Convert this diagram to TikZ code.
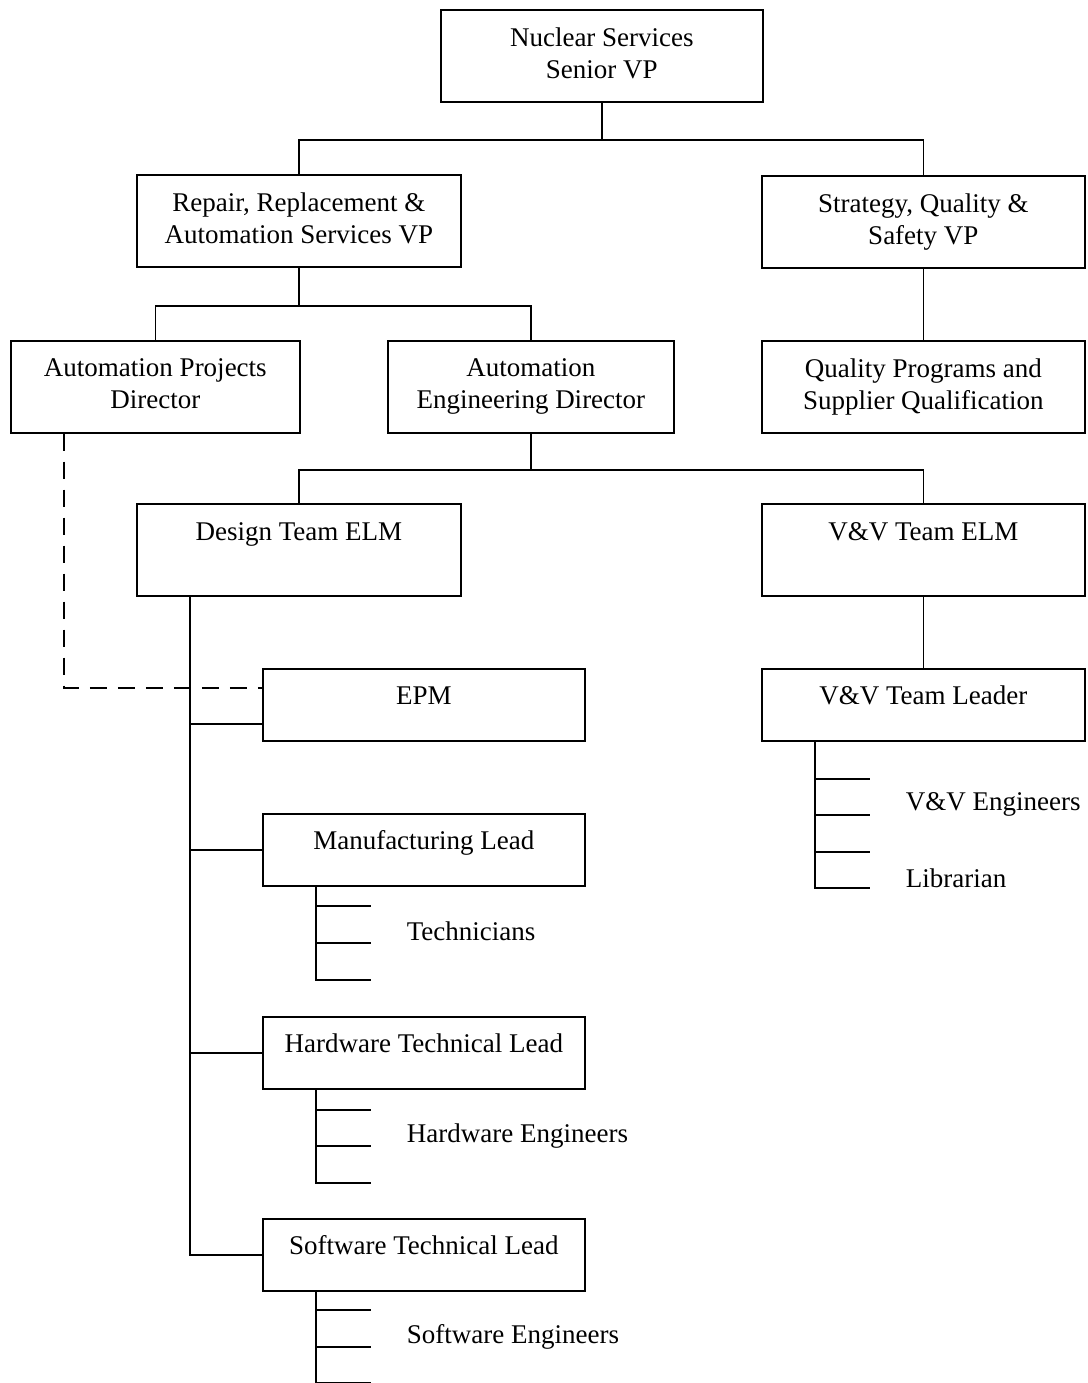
\documentclass[tikz,border=0pt]{standalone}
\usepackage{fontspec}
\setmainfont{Liberation Serif}
\usetikzlibrary{calc}
% keeps a last line without descenders at the same depth as one with them
\newcommand{\dpad}{\rule[-6pt]{0pt}{6pt}}
\begin{document}
\begin{tikzpicture}[x=1pt,y=-1pt,line width=1.7pt,
  txt/.style={font=\fontsize{27}{32}\selectfont},
  box/.style={txt,draw,rectangle,inner sep=0pt,anchor=north west,align=center},
  tall/.style={minimum height=92pt},
  short/.style={minimum height=72pt,text height=19pt,text depth=19pt},
  topline/.style={minimum height=92pt,text height=19pt,text depth=37pt},
  lbl/.style={txt,anchor=west,inner sep=0pt},
  dotted link/.style={dash pattern=on 17pt off 11pt}]
\useasboundingbox (0,0) rectangle (1087,1383);

% boxes
\node[box,tall,minimum width=322pt] (nuc) at (440,9) {Nuclear Services\\Senior VP\dpad};
\node[box,tall,minimum width=324pt] (rep) at (136,174) {Repair, Replacement \&\\Automation Services VP\dpad};
\node[box,tall,minimum width=323pt] (str) at (761,175) {Strategy, Quality \&\\Safety VP};
\node[box,tall,minimum width=289pt] (apd) at (10,340) {Automation Projects\\Director\dpad};
\node[box,tall,minimum width=286pt] (aed) at (387,340) {Automation\\Engineering Director};
\node[box,tall,minimum width=323pt] (qual) at (761,340) {Quality Programs and\\Supplier Qualification};
\node[box,topline,minimum width=324pt] (dte) at (136,503) {Design Team ELM};
\node[box,topline,minimum width=323pt] (vte) at (761,503) {V\&V Team ELM};
\node[box,short,minimum width=323pt] (vtl) at (761,668) {V\&V Team Leader};
\node[box,short,minimum width=322pt] (epm) at (262,668) {EPM};
\node[box,short,minimum width=322pt] (mfg) at (262,813) {Manufacturing Lead};
\node[box,short,minimum width=322pt] (hw) at (262,1016) {Hardware Technical Lead};
\node[box,short,minimum width=322pt] (sw) at (262,1218) {Software Technical Lead};

% upper levels
\draw (nuc.south) -- ++(0,37) coordinate (b1);
\draw (rep.north) |- (b1) -| (str.north);
\draw (rep.south) -- ++(0,38) coordinate (b2);
\draw (apd.north) |- (b2) -| (aed.north);
\draw (str.south) -- (qual.north);
\draw (aed.south) -- ++(0,36) coordinate (b3);
\draw (dte.north) |- (b3) -| (vte.north);
\draw (vte.south) -- (vtl.north);

% design team trunk
\coordinate (dt) at ($(dte.south west)+(54,0)$);
\coordinate (epmj) at ($(epm.west)+(0,19)$);
\draw (dt) -- (dt |- sw.west) -- (sw.west);
\draw (dt |- epmj) -- (epmj);
\draw (dt |- mfg.west) -- (mfg.west);
\draw (dt |- hw.west) -- (hw.west);

% dashed link
\coordinate (epmd) at ($(epm.west)+(0,-17)$);
\draw[dotted link] ($(apd.south west)+(54,0)$) coordinate (ad) |- (epmd);

% staff lists
\draw ($(mfg.south west)+(54,0)$) coordinate (mt) -- ++(0,93) -- ++(55,0);
\foreach \d in {19,56} \draw ($(mt)+(0,\d)$) -- ++(55,0);
\node[lbl] (tech) at ($(mt)+(90,45)$) {Technicians};

\draw ($(hw.south west)+(54,0)$) coordinate (ht) -- ++(0,93) -- ++(55,0);
\foreach \d in {20,56} \draw ($(ht)+(0,\d)$) -- ++(55,0);
\node[lbl] (hweng) at ($(ht)+(90,46)$) {Hardware Engineers};

\draw ($(sw.south west)+(54,0)$) coordinate (st) -- ++(0,91) -- ++(55,0);
\foreach \d in {18,55} \draw ($(st)+(0,\d)$) -- ++(55,0);
\node[lbl] (sweng) at ($(st)+(90,45)$) {Software Engineers};

\draw ($(vtl.south west)+(54,0)$) coordinate (vt) -- ++(0,146) -- ++(55,0);
\foreach \d in {37,73,110} \draw ($(vt)+(0,\d)$) -- ++(55,0);
\node[lbl] (vveng) at ($(vt)+(90,63)$) {V\&V Engineers};
\node[lbl] (lib) at ($(vt)+(90,137)$) {Librarian};
\end{tikzpicture}
\end{document}
